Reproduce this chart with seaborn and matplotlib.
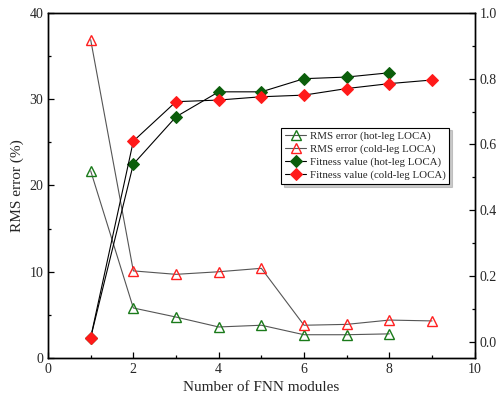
import matplotlib
matplotlib.use('Agg')
import matplotlib.pyplot as plt
import seaborn as sns
from matplotlib.ticker import MultipleLocator

modules_hot = [1, 2, 3, 4, 5, 6, 7, 8]
modules_cold = [1, 2, 3, 4, 5, 6, 7, 8, 9]
rms_hot = [21.7, 5.8, 4.75, 3.6, 3.8, 2.7, 2.7, 2.8]
rms_cold = [36.9, 10.1, 9.7, 10.0, 10.4, 3.8, 3.9, 4.4, 4.3]
fit_hot = [0.012, 0.54, 0.684, 0.76, 0.76, 0.80, 0.805, 0.818]
fit_cold = [0.012, 0.61, 0.73, 0.735, 0.745, 0.75, 0.77, 0.785, 0.796]

sns.set_style('ticks')
plt.rcParams['font.family'] = ['Liberation Serif', 'DejaVu Serif']

fig = plt.figure(figsize=(5.02, 4.05), dpi=100)
ax = fig.add_axes([0.0956, 0.116, 0.85, 0.852])
ax2 = ax.twinx()

sns.lineplot(x=modules_hot, y=rms_hot, ax=ax, color='#555555', lw=0.8,
             marker='^', markersize=7, markerfacecolor='none',
             markeredgecolor='#1a7a1a', markeredgewidth=1.0,
             label='RMS error (hot-leg LOCA)', legend=False)
sns.lineplot(x=modules_cold, y=rms_cold, ax=ax, color='#555555', lw=0.8,
             marker='^', markersize=7, markerfacecolor='none',
             markeredgecolor='#ff2020', markeredgewidth=1.0,
             label='RMS error (cold-leg LOCA)', legend=False)
sns.lineplot(x=modules_hot, y=fit_hot, ax=ax2, color='black', lw=0.8,
             marker='D', markersize=6, markerfacecolor='#0b5e0b',
             markeredgecolor='#0b5e0b',
             label='Fitness value (hot-leg LOCA)', legend=False)
sns.lineplot(x=modules_cold, y=fit_cold, ax=ax2, color='black', lw=0.8,
             marker='D', markersize=6, markerfacecolor='#ff1a1a',
             markeredgecolor='#ff1a1a',
             label='Fitness value (cold-leg LOCA)', legend=False)

ax.set_xlim(0, 10)
ax.set_ylim(0, 40)
ax2.set_ylim(-0.05, 1.0)
ax.xaxis.set_major_locator(MultipleLocator(2))
ax.xaxis.set_minor_locator(MultipleLocator(1))
ax.yaxis.set_major_locator(MultipleLocator(10))
ax.yaxis.set_minor_locator(MultipleLocator(5))
ax2.yaxis.set_major_locator(MultipleLocator(0.2))
ax2.yaxis.set_minor_locator(MultipleLocator(0.1))
ax2.yaxis.set_major_formatter(plt.FormatStrFormatter('%.1f'))

for a in (ax, ax2):
    a.tick_params(which='both', direction='in', labelsize=10, width=0.9, color='black')
    a.tick_params(which='major', length=4)
    a.tick_params(which='minor', length=2.5)
    for s in a.spines.values():
        s.set_visible(True)
        s.set_linewidth(1.0)
        s.set_color('black')

ax.set_xlabel('Number of FNN modules', fontsize=11)
ax.set_ylabel('RMS error (%)', fontsize=11)

h1, l1 = ax.get_legend_handles_labels()
h2, l2 = ax2.get_legend_handles_labels()
leg = ax2.legend(h1 + h2, l1 + l2, loc='upper left', bbox_to_anchor=(0.546, 0.668),
                 fontsize=7.8, frameon=True, fancybox=False, shadow={'ox': 2, 'oy': -2, 'color': '#999999'},
                 edgecolor='black', handlelength=2.0, borderpad=0.35,
                 labelspacing=0.3, handletextpad=0.3, borderaxespad=0)
leg.get_frame().set_linewidth(0.8)

fig.savefig('out.png', dpi=100)
